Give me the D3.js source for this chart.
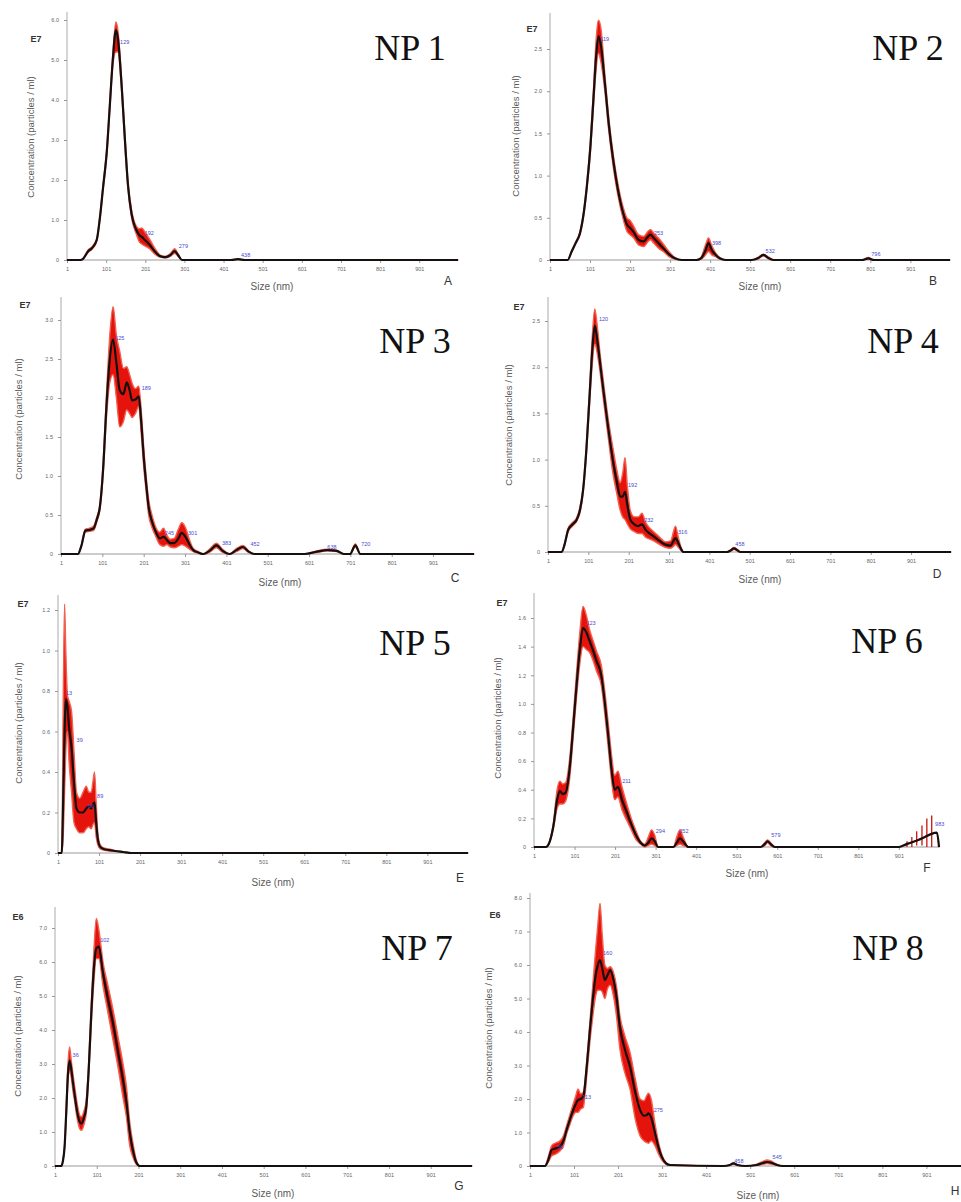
<!DOCTYPE html>
<html>
<head>
<meta charset="utf-8">
<script src="https://cdn.jsdelivr.net/npm/d3@7"></script>
<style>
  body { margin: 0; background: #fff; }
  svg { display: block; }
  .tick text { font-family: "Liberation Sans", Arial, sans-serif; fill: #666; }
</style>
</head>
<body>
<script>
// NTA size distributions, 8 samples. Values in units of the "E7"/"E6" multiplier.

const xTicks = [1, 101, 201, 301, 401, 501, 601, 701, 801, 901];

// NP 1 (A)
const sizeA = [1, 35, 42, 55, 65, 77, 85, 93, 103, 110, 118, 126, 131, 141, 149, 157, 166, 178, 186, 192, 200, 212, 225, 238, 252, 265, 276, 285, 295, 420, 438, 455, 1000];
const meanA = [0, 0, 0.03, 0.22, 0.3, 0.5, 1.05, 1.8, 2.75, 3.8, 5.0, 5.75, 5.55, 4.3, 3.0, 1.85, 1.15, 0.75, 0.62, 0.58, 0.5, 0.38, 0.22, 0.1, 0.07, 0.12, 0.22, 0.12, 0, 0, 0.02, 0, 0];
const hiA   = [0, 0, 0.04, 0.25, 0.33, 0.53, 1.1, 1.87, 2.85, 3.9, 5.15, 5.95, 5.75, 4.45, 3.15, 1.95, 1.25, 0.85, 0.78, 0.8, 0.7, 0.52, 0.3, 0.13, 0.09, 0.16, 0.28, 0.15, 0, 0, 0.03, 0, 0];
const loA   = [0, 0, 0.02, 0.19, 0.27, 0.47, 1.0, 1.73, 2.65, 3.7, 4.85, 5.2, 5.2, 4.15, 2.85, 1.75, 1.05, 0.65, 0.45, 0.4, 0.35, 0.28, 0.15, 0.07, 0.05, 0.09, 0.17, 0.09, 0, 0, 0.01, 0, 0];
const peaksA = [129, 192, 279, 438];
const peakYA = [5.4, 0.62, 0.3, 0.08];
const yTicksA = [0, 1, 2, 3, 4, 5, 6];

// NP 2 (B)
const sizeB = [1, 45, 55, 65, 76, 85, 93, 102, 110, 116, 122, 128, 138, 148, 159, 170, 184, 193, 201, 210, 222, 235, 246, 252, 260, 272, 284, 298, 313, 330, 366, 378, 388, 397, 405, 415, 425, 440, 505, 520, 534, 548, 560, 780, 796, 810, 1000];
const meanB = [0, 0, 0.1, 0.2, 0.32, 0.55, 0.87, 1.35, 1.95, 2.4, 2.65, 2.55, 2.1, 1.6, 1.18, 0.85, 0.55, 0.42, 0.38, 0.33, 0.24, 0.22, 0.28, 0.3, 0.26, 0.2, 0.14, 0.07, 0.02, 0, 0, 0.02, 0.1, 0.2, 0.12, 0.06, 0.02, 0, 0, 0.02, 0.06, 0.02, 0, 0, 0.02, 0, 0];
const hiB   = [0, 0, 0.11, 0.21, 0.34, 0.58, 0.91, 1.42, 2.05, 2.6, 2.84, 2.75, 2.2, 1.68, 1.25, 0.92, 0.62, 0.5, 0.47, 0.4, 0.3, 0.28, 0.34, 0.36, 0.32, 0.26, 0.19, 0.1, 0.03, 0, 0, 0.03, 0.16, 0.26, 0.17, 0.08, 0.03, 0, 0, 0.03, 0.07, 0.03, 0, 0, 0.03, 0, 0];
const loB   = [0, 0, 0.09, 0.19, 0.3, 0.52, 0.83, 1.28, 1.85, 2.25, 2.45, 2.35, 2.0, 1.52, 1.1, 0.78, 0.48, 0.34, 0.3, 0.26, 0.18, 0.16, 0.22, 0.24, 0.2, 0.14, 0.1, 0.04, 0.01, 0, 0, 0.01, 0.05, 0.1, 0.06, 0.04, 0.01, 0, 0, 0.01, 0.05, 0.01, 0, 0, 0.01, 0, 0];
const peaksB = [119, 253, 398, 532, 796];
const peakYB = [2.6, 0.3, 0.18, 0.08, 0.05];
const yTicksB = [0, 0.5, 1.0, 1.5, 2.0, 2.5];

// NP 3 (C)
const sizeC = [1, 42, 50, 60, 70, 80, 88, 95, 103, 111, 119, 127, 135, 143, 152, 160, 167, 173, 181, 189, 195, 201, 207, 213, 221, 229, 240, 249, 257, 265, 275, 285, 293, 302, 312, 321, 333, 345, 360, 377, 392, 409, 425, 441, 455, 469, 590, 620, 645, 668, 685, 700, 713, 725, 1000];
const meanC = [0, 0, 0.1, 0.3, 0.31, 0.33, 0.45, 0.6, 1.1, 1.9, 2.5, 2.75, 2.45, 2.1, 2.05, 2.2, 2.1, 1.97, 1.98, 2.02, 1.7, 1.25, 0.9, 0.6, 0.42, 0.3, 0.2, 0.22, 0.18, 0.14, 0.14, 0.2, 0.27, 0.22, 0.12, 0.05, 0.02, 0, 0.04, 0.11, 0.04, 0, 0.05, 0.09, 0.03, 0, 0, 0.03, 0.05, 0.04, 0, 0, 0.11, 0, 0];
const hiC   = [0, 0, 0.11, 0.32, 0.33, 0.36, 0.48, 0.64, 1.18, 2.05, 2.8, 3.17, 2.8, 2.6, 2.38, 2.4, 2.3, 2.19, 2.12, 2.15, 1.85, 1.38, 1.0, 0.7, 0.5, 0.36, 0.28, 0.33, 0.24, 0.19, 0.2, 0.32, 0.4, 0.34, 0.18, 0.07, 0.03, 0, 0.06, 0.14, 0.06, 0, 0.07, 0.11, 0.04, 0, 0, 0.04, 0.06, 0.05, 0, 0, 0.13, 0, 0];
const loC   = [0, 0, 0.09, 0.28, 0.29, 0.3, 0.42, 0.56, 1.02, 1.75, 2.2, 2.3, 2.0, 1.63, 1.7, 1.85, 1.8, 1.75, 1.8, 1.89, 1.55, 1.12, 0.8, 0.5, 0.34, 0.24, 0.12, 0.1, 0.12, 0.09, 0.08, 0.1, 0.12, 0.1, 0.06, 0.03, 0.01, 0, 0.02, 0.08, 0.02, 0, 0.03, 0.07, 0.02, 0, 0, 0.02, 0.04, 0.03, 0, 0, 0.09, 0, 0];
const peaksC = [125, 189, 245, 301, 383, 452, 638, 720];
const peakYC = [2.75, 2.1, 0.25, 0.25, 0.12, 0.1, 0.06, 0.1];
const yTicksC = [0, 0.5, 1.0, 1.5, 2.0, 2.5, 3.0];

// NP 4 (D)
const sizeD = [1, 35, 42, 51, 62, 72, 80, 88, 96, 105, 111, 117, 123, 130, 138, 150, 163, 172, 180, 186, 192, 198, 205, 215, 225, 234, 243, 253, 263, 278, 292, 305, 312, 317, 324, 330, 337, 445, 455, 462, 470, 478, 1000];
const meanD = [0, 0, 0.08, 0.24, 0.3, 0.35, 0.45, 0.67, 1.1, 1.76, 2.2, 2.45, 2.3, 2.05, 1.76, 1.35, 0.96, 0.75, 0.6, 0.6, 0.65, 0.5, 0.35, 0.3, 0.28, 0.3, 0.24, 0.2, 0.17, 0.12, 0.08, 0.07, 0.12, 0.15, 0.1, 0.04, 0, 0, 0.02, 0.04, 0.02, 0, 0];
const hiD   = [0, 0, 0.09, 0.26, 0.32, 0.37, 0.48, 0.7, 1.15, 1.85, 2.35, 2.63, 2.45, 2.15, 1.86, 1.45, 1.1, 0.88, 0.75, 0.85, 1.02, 0.7, 0.45, 0.38, 0.38, 0.42, 0.32, 0.26, 0.22, 0.16, 0.11, 0.12, 0.22, 0.28, 0.16, 0.06, 0, 0, 0.03, 0.05, 0.03, 0, 0];
const loD   = [0, 0, 0.07, 0.22, 0.28, 0.33, 0.42, 0.64, 1.05, 1.67, 2.05, 2.25, 2.15, 1.95, 1.66, 1.25, 0.82, 0.62, 0.45, 0.38, 0.35, 0.3, 0.25, 0.22, 0.2, 0.2, 0.16, 0.14, 0.12, 0.08, 0.05, 0.04, 0.06, 0.08, 0.05, 0.02, 0, 0, 0.01, 0.03, 0.01, 0, 0];
const peaksD = [120, 192, 232, 316, 458];
const peakYD = [2.5, 0.7, 0.33, 0.2, 0.07];
const yTicksD = [0, 0.5, 1.0, 1.5, 2.0, 2.5];

// NP 5 (E)
const sizeE = [1, 10, 14, 17, 20, 24, 28, 34, 40, 46, 54, 62, 70, 76, 82, 86, 90, 94, 98, 104, 112, 125, 140, 160, 180, 1000];
const meanE = [0, 0, 0.3, 0.6, 0.76, 0.72, 0.62, 0.52, 0.35, 0.22, 0.2, 0.2, 0.22, 0.23, 0.22, 0.24, 0.25, 0.15, 0.07, 0.03, 0.02, 0.015, 0.01, 0.005, 0, 0];
const hiE   = [0, 0, 0.8, 1.23, 1.0, 0.78, 0.75, 0.7, 0.5, 0.3, 0.27, 0.3, 0.33, 0.3, 0.3, 0.35, 0.4, 0.25, 0.1, 0.04, 0.025, 0.02, 0.012, 0.006, 0, 0];
const loE   = [0, 0, 0.1, 0.3, 0.5, 0.6, 0.45, 0.3, 0.15, 0.12, 0.1, 0.1, 0.12, 0.13, 0.12, 0.14, 0.15, 0.08, 0.04, 0.02, 0.015, 0.01, 0.008, 0.004, 0, 0];
const peaksE = [13, 39, 66, 89];
const peakYE = [0.78, 0.55, 0.22, 0.27];
const yTicksE = [0, 0.2, 0.4, 0.6, 0.8, 1.0, 1.2];

// NP 6 (F)
const sizeF = [1, 30, 40, 49, 58, 65, 72, 79, 89, 98, 106, 114, 122, 130, 138, 147, 155, 167, 176, 184, 192, 200, 208, 218, 229, 241, 253, 264, 274, 283, 291, 299, 307, 345, 353, 361, 369, 382, 560, 570, 577, 585, 595, 901, 920, 935, 950, 965, 980, 995, 1000];
const meanF = [0, 0, 0.04, 0.15, 0.33, 0.39, 0.37, 0.38, 0.55, 0.85, 1.13, 1.38, 1.53, 1.5, 1.44, 1.37, 1.3, 1.2, 1.0, 0.78, 0.55, 0.4, 0.42, 0.33, 0.25, 0.16, 0.08, 0.03, 0.01, 0.03, 0.06, 0.04, 0, 0, 0.03, 0.06, 0.04, 0, 0, 0.02, 0.04, 0.02, 0, 0, 0.02, 0.035, 0.05, 0.07, 0.09, 0.1, 0];
const hiF   = [0, 0, 0.045, 0.17, 0.4, 0.46, 0.44, 0.45, 0.62, 0.92, 1.22, 1.5, 1.68, 1.62, 1.52, 1.44, 1.37, 1.27, 1.08, 0.87, 0.65, 0.5, 0.53, 0.42, 0.31, 0.2, 0.11, 0.04, 0.02, 0.07, 0.12, 0.08, 0, 0, 0.07, 0.12, 0.07, 0, 0, 0.03, 0.05, 0.03, 0, 0, 0.02, 0.035, 0.05, 0.07, 0.09, 0.1, 0];
const loF   = [0, 0, 0.035, 0.13, 0.27, 0.3, 0.3, 0.32, 0.48, 0.78, 1.05, 1.28, 1.4, 1.38, 1.36, 1.3, 1.23, 1.13, 0.92, 0.7, 0.47, 0.33, 0.35, 0.26, 0.19, 0.12, 0.05, 0.02, 0, 0.01, 0.02, 0.01, 0, 0, 0.01, 0.02, 0.01, 0, 0, 0.01, 0.03, 0.01, 0, 0, 0.02, 0.035, 0.05, 0.07, 0.09, 0.1, 0];
const barSizeF = [921, 933, 945, 958, 970, 982];
const barHiF = [0.04, 0.07, 0.11, 0.15, 0.2, 0.22];
const barLoF = [0, 0, 0.01, 0.01, 0, 0];
const peaksF = [123, 211, 294, 352, 579, 983];
const peakYF = [1.55, 0.45, 0.1, 0.1, 0.07, 0.15];
const yTicksF = [0, 0.2, 0.4, 0.6, 0.8, 1.0, 1.2, 1.4, 1.6];

// NP 7 (G)
const sizeG = [1, 16, 20, 24, 28, 32, 36, 40, 44, 48, 54, 60, 64, 70, 76, 82, 88, 94, 100, 106, 116, 128, 140, 152, 164, 172, 180, 188, 196, 204, 1000];
const meanG = [0, 0, 0.15, 0.57, 1.6, 2.7, 3.1, 2.85, 2.45, 2.1, 1.6, 1.3, 1.25, 1.4, 1.75, 2.9, 4.5, 5.8, 6.4, 6.45, 5.67, 4.9, 4.2, 3.35, 2.53, 1.9, 1.0, 0.45, 0.1, 0, 0];
const hiG   = [0, 0, 0.17, 0.62, 1.8, 3.0, 3.5, 3.1, 2.7, 2.35, 1.85, 1.5, 1.45, 1.6, 1.95, 3.1, 4.8, 6.3, 7.28, 6.95, 6.0, 5.3, 4.6, 3.8, 3.0, 2.35, 1.3, 0.65, 0.17, 0, 0];
const loG   = [0, 0, 0.13, 0.52, 1.4, 2.45, 2.8, 2.6, 2.2, 1.9, 1.4, 1.1, 1.05, 1.2, 1.55, 2.7, 4.2, 5.4, 6.1, 6.1, 5.3, 4.5, 3.7, 2.9, 2.0, 1.45, 0.6, 0.25, 0.05, 0, 0];
const peaksG = [36, 102];
const peakYG = [3.2, 6.6];
const yTicksG = [0, 1, 2, 3, 4, 5, 6, 7];

// NP 8 (H)
const sizeH = [1, 35, 43, 50, 58, 69, 77, 84, 92, 99, 105, 110, 116, 122, 130, 137, 143, 149, 155, 160, 165, 171, 177, 183, 190, 198, 205, 216, 228, 240, 251, 260, 266, 270, 276, 285, 293, 300, 310, 319, 440, 455, 463, 472, 490, 515, 530, 539, 548, 560, 575, 1000];
const meanH = [0, 0, 0.2, 0.48, 0.52, 0.58, 0.75, 1.07, 1.4, 1.67, 1.85, 1.97, 2.0, 2.07, 3.0, 4.06, 4.9, 5.6, 6.0, 6.15, 5.9, 5.55, 5.7, 5.85, 5.6, 5.0, 4.16, 3.5, 2.97, 2.2, 1.67, 1.5, 1.52, 1.57, 1.45, 0.98, 0.55, 0.28, 0.08, 0.03, 0, 0.03, 0.08, 0.03, 0, 0.03, 0.09, 0.12, 0.1, 0.04, 0, 0];
const hiH   = [0, 0, 0.3, 0.6, 0.68, 0.75, 0.9, 1.2, 1.55, 1.85, 2.1, 2.3, 2.15, 2.2, 3.15, 4.3, 5.3, 6.3, 7.2, 7.84, 6.9, 6.0, 5.9, 5.95, 5.8, 5.3, 4.5, 3.9, 3.4, 2.6, 2.0, 1.95, 2.1, 2.17, 2.0, 1.25, 0.7, 0.35, 0.1, 0.04, 0, 0.04, 0.1, 0.04, 0, 0.05, 0.14, 0.18, 0.15, 0.06, 0, 0];
const loH   = [0, 0, 0.12, 0.3, 0.35, 0.45, 0.6, 0.95, 1.25, 1.5, 1.6, 1.6, 1.7, 1.75, 2.7, 3.7, 4.4, 5.0, 5.25, 5.25, 5.2, 5.0, 5.3, 5.4, 5.1, 4.4, 3.5, 2.8, 2.3, 1.4, 0.9, 0.75, 0.7, 0.68, 0.75, 0.6, 0.35, 0.18, 0.05, 0.02, 0, 0.02, 0.06, 0.02, 0, 0.02, 0.05, 0.07, 0.06, 0.02, 0, 0];
const peaksH = [56, 113, 160, 275, 458, 545];
const peakYH = [0.5, 2.0, 6.3, 1.6, 0.1, 0.2];
const yTicksH = [0, 1, 2, 3, 4, 5, 6, 7, 8];

// panel layout (pixel frame of each small plot)
const panels = [
  { name: "NP 1", letter: "A", mult: "E7", size: sizeA, mean: meanA, hi: hiA, lo: loA, peaks: peaksA, peakY: peakYA, yTicks: yTicksA,
    left: 67, right: 458, y0: 260, yTop: 20, axisTop: 12, title: [410, 60], mul: [36, 42], ylab: [30, 137], xlab: [272, 290], let: [448, 285] },
  { name: "NP 2", letter: "B", mult: "E7", size: sizeB, mean: meanB, hi: hiB, lo: loB, peaks: peaksB, peakY: peakYB, yTicks: yTicksB,
    left: 550, right: 950, y0: 260, yTop: 49, axisTop: 13, title: [908, 60], mul: [532, 32], ylab: [515, 136], xlab: [760, 290], let: [933, 285] },
  { name: "NP 3", letter: "C", mult: "E7", size: sizeC, mean: meanC, hi: hiC, lo: loC, peaks: peaksC, peakY: peakYC, yTicks: yTicksC,
    left: 61, right: 474, y0: 554, yTop: 320, axisTop: 297, title: [415, 353], mul: [25, 308], ylab: [18, 419], xlab: [280, 586], let: [455, 582] },
  { name: "NP 4", letter: "D", mult: "E7", size: sizeD, mean: meanD, hi: hiD, lo: loD, peaks: peaksD, peakY: peakYD, yTicks: yTicksD,
    left: 548, right: 951, y0: 552, yTop: 321, axisTop: 297, title: [903, 353], mul: [519, 310], ylab: [508, 425], xlab: [760, 583], let: [937, 578] },
  { name: "NP 5", letter: "E", mult: "E7", size: sizeE, mean: meanE, hi: hiE, lo: loE, peaks: peaksE, peakY: peakYE, yTicks: yTicksE,
    left: 58, right: 468, y0: 853, yTop: 610, axisTop: 595, title: [415, 655], mul: [23, 607], ylab: [18, 723], xlab: [273, 886], let: [460, 882] },
  { name: "NP 6", letter: "F", mult: "E7", size: sizeF, mean: meanF, hi: hiF, lo: loF, peaks: peaksF, peakY: peakYF, yTicks: yTicksF,
    left: 534, right: 939, y0: 847, yTop: 618, axisTop: 593, title: [887, 653], mul: [502, 606], ylab: [497, 718], xlab: [747, 877], let: [927, 872],
    bars: { size: barSizeF, hi: barHiF, lo: barLoF } },
  { name: "NP 7", letter: "G", mult: "E6", size: sizeG, mean: meanG, hi: hiG, lo: loG, peaks: peaksG, peakY: peakYG, yTicks: yTicksG,
    left: 55, right: 472, y0: 1166, yTop: 928, axisTop: 907, title: [417, 960], mul: [18, 920], ylab: [17, 1036], xlab: [273, 1197], let: [459, 1190] },
  { name: "NP 8", letter: "H", mult: "E6", size: sizeH, mean: meanH, hi: hiH, lo: loH, peaks: peaksH, peakY: peakYH, yTicks: yTicksH,
    left: 530, right: 970, y0: 1166, yTop: 898, axisTop: 893, title: [888, 960], mul: [495, 918], ylab: [488, 1028], xlab: [758, 1199], let: [955, 1195] }
];

const W = 961, H = 1202;
const sans = "'Liberation Sans', Arial, sans-serif";

const svg = d3.select("body")
              .append("svg")
              .attr("width", W)
              .attr("height", H);

svg.append("rect")
   .attr("width", W)
   .attr("height", H)
   .attr("fill", "#fff");

panels.forEach(p => {
  const g = svg.append("g");

  const x = d3.scaleLinear()
              .domain([1, 1000])
              .range([p.left, p.right]);
  const yMax = d3.max(p.yTicks);
  const y = d3.scaleLinear()
              .domain([0, yMax])
              .range([p.y0, p.yTop]);

  const rows = p.size.map((s, i) => ({ s: s, m: p.mean[i], hi: p.hi[i], lo: p.lo[i] }));

  // axes
  g.append("line")
   .attr("x1", p.left).attr("x2", p.left)
   .attr("y1", p.y0).attr("y2", p.axisTop)
   .attr("stroke", "#aaa").attr("stroke-width", 1);
  g.append("line")
   .attr("x1", p.left).attr("x2", p.right)
   .attr("y1", p.y0).attr("y2", p.y0)
   .attr("stroke", "#999").attr("stroke-width", 1);

  const yAxis = d3.axisLeft(y)
                  .tickValues(p.yTicks)
                  .tickSize(3)
                  .tickPadding(5)
                  .tickFormat(d => d === 0 ? "0" : d3.format(".1f")(d));
  const ya = g.append("g")
              .attr("transform", "translate(" + p.left + ",0)")
              .call(yAxis);
  ya.select(".domain").remove();
  ya.selectAll(".tick line").attr("stroke", "#999");
  ya.selectAll(".tick text").attr("font-size", 5.5);

  const xAxis = d3.axisBottom(x)
                  .tickValues(xTicks)
                  .tickSize(3)
                  .tickPadding(4);
  const xa = g.append("g")
              .attr("transform", "translate(0," + p.y0 + ")")
              .call(xAxis);
  xa.select(".domain").remove();
  xa.selectAll(".tick line").attr("stroke", "#999");
  xa.selectAll(".tick text").attr("font-size", 5.5);

  // error band
  const band = d3.area()
                 .x(d => x(d.s))
                 .y0(d => y(d.lo))
                 .y1(d => y(d.hi))
                 .curve(d3.curveMonotoneX);
  g.append("path")
   .datum(rows)
   .attr("d", band)
   .attr("fill", "#e4140c")
   .attr("stroke", "#f26050")
   .attr("stroke-width", 1.4)
   .attr("stroke-linejoin", "round");

  // vertical error bars (tail of NP 6)
  if (p.bars) {
    g.selectAll(".ebar")
     .data(p.bars.size)
     .enter()
     .append("line")
     .attr("class", "ebar")
     .attr("x1", d => x(d)).attr("x2", d => x(d))
     .attr("y1", (d, i) => y(p.bars.lo[i]))
     .attr("y2", (d, i) => y(p.bars.hi[i]))
     .attr("stroke", "#c8140c")
     .attr("stroke-width", 1.3);
  }

  // mean curve
  const line = d3.line()
                 .x(d => x(d.s))
                 .y(d => y(d.m))
                 .curve(d3.curveMonotoneX);
  g.append("path")
   .datum(rows)
   .attr("d", line)
   .attr("fill", "none")
   .attr("stroke", "#151010")
   .attr("stroke-width", 2.2)
   .attr("stroke-linejoin", "round");

  // peak labels
  g.selectAll(".peak")
   .data(p.peaks)
   .enter()
   .append("text")
   .attr("class", "peak")
   .attr("x", d => x(d) + 3)
   .attr("y", (d, i) => y(p.peakY[i]))
   .attr("font-family", sans)
   .attr("font-size", 5.5)
   .attr("fill", "#4a4ad0")
   .text(d => d);

  // texts
  g.append("text")
   .attr("x", p.mul[0]).attr("y", p.mul[1])
   .attr("text-anchor", "middle")
   .attr("font-family", sans)
   .attr("font-size", 9)
   .attr("font-weight", "bold")
   .attr("fill", "#333")
   .text(p.mult);

  g.append("text")
   .attr("transform", "translate(" + p.ylab[0] + "," + p.ylab[1] + ") rotate(-90)")
   .attr("text-anchor", "middle")
   .attr("dominant-baseline", "central")
   .attr("font-family", sans)
   .attr("font-size", 9.5)
   .attr("fill", "#5a5a5a")
   .text("Concentration (particles / ml)");

  g.append("text")
   .attr("x", p.xlab[0]).attr("y", p.xlab[1])
   .attr("text-anchor", "middle")
   .attr("font-family", sans)
   .attr("font-size", 10)
   .attr("fill", "#5a5a5a")
   .text("Size (nm)");

  g.append("text")
   .attr("x", p.let[0]).attr("y", p.let[1])
   .attr("text-anchor", "middle")
   .attr("font-family", sans)
   .attr("font-size", 12)
   .attr("fill", "#333")
   .text(p.letter);

  g.append("text")
   .attr("x", p.title[0]).attr("y", p.title[1])
   .attr("text-anchor", "middle")
   .attr("font-family", "'Liberation Serif', 'Times New Roman', serif")
   .attr("font-size", 36)
   .attr("fill", "#111")
   .text(p.name);
});
</script>
</body>
</html>
